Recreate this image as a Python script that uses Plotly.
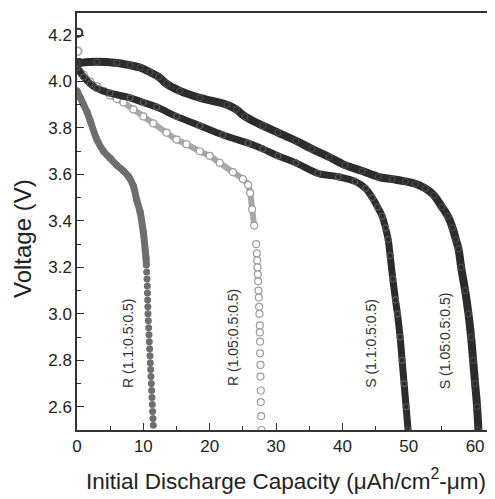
import plotly.graph_objects as go

# ---------------- data ----------------
r11_x = [0, 0.5, 1, 1.5, 2, 3, 4, 5, 6, 7, 7.8, 8.5, 9, 9.5, 10, 10.3,
         10.4, 10.45, 10.5, 10.55, 10.6, 10.62, 10.65, 10.68, 10.7, 10.75, 10.8, 10.85,
         10.9, 10.95, 11.0, 11.05, 11.1, 11.15, 11.2, 11.25, 11.3, 11.35, 11.4, 11.45, 11.5]
r11_v = [3.96, 3.93, 3.90, 3.87, 3.83, 3.75, 3.70, 3.67, 3.64, 3.615, 3.59, 3.55, 3.49, 3.44, 3.35, 3.27,
         3.24, 3.21, 3.18, 3.15, 3.12, 3.09, 3.06, 3.03, 3.00, 2.97, 2.94, 2.91,
         2.88, 2.85, 2.82, 2.79, 2.76, 2.73, 2.70, 2.67, 2.64, 2.61, 2.58, 2.55, 2.52]

r105_x = [0, 1, 2, 3, 4, 5, 6, 7, 8.5, 10, 11.5, 13.5, 15, 16.5, 18.5, 20, 21.5, 23.5, 25, 25.8,
          26.1, 26.4, 26.7, 27.0,
          27.1, 27.15, 27.2, 27.25, 27.3, 27.35, 27.4, 27.45, 27.5, 27.55, 27.55, 27.6, 27.6,
          27.65, 27.65, 27.7, 27.7, 27.75, 27.8]
r105_v = [4.07, 4.03, 4.0, 3.98, 3.96, 3.94, 3.925, 3.91, 3.88, 3.85, 3.82, 3.78, 3.75, 3.73, 3.70,
          3.68, 3.65, 3.61, 3.58, 3.555, 3.52, 3.45, 3.38, 3.30,
          3.26, 3.23, 3.20, 3.17, 3.14, 3.10, 3.07, 3.03, 3.00, 2.95, 2.92, 2.88, 2.83,
          2.78, 2.73, 2.67, 2.62, 2.56, 2.50]

s11_x = [0, 1, 2, 3, 5, 8, 10, 12, 15, 18.5, 22, 25.8, 28, 30.3, 33, 36.3, 39.4, 41.9, 43.5,
         44.5, 45.3, 46, 46.5, 46.9, 47.2, 47.6, 48.0, 48.3, 48.7, 49.0, 49.3, 49.6, 49.9]
s11_v = [4.06, 4.02, 3.99, 3.97, 3.95, 3.93, 3.91, 3.89, 3.85, 3.81, 3.77, 3.735, 3.71, 3.68, 3.65,
         3.605, 3.59, 3.57, 3.54, 3.50, 3.46, 3.42, 3.37, 3.32, 3.25, 3.15, 3.06, 3.0, 2.9, 2.8,
         2.7, 2.6, 2.5]

s105_x = [0, 3, 6, 8, 9.5, 11, 12.3, 13.5, 15.5, 18.5, 22.6, 24, 25.3, 28, 30.3, 33, 35.4, 38,
          40.4, 43, 45.4, 47.5, 49.5, 51, 52.5, 53.8, 55, 55.9, 56.6, 57.1, 57.5, 57.9, 58.5, 59,
          59.4, 59.7, 60, 60.3, 60.5]
s105_v = [4.08, 4.085, 4.08, 4.07, 4.06, 4.04, 4.02, 3.99, 3.96, 3.93, 3.90, 3.88, 3.85, 3.81,
          3.78, 3.745, 3.71, 3.675, 3.64, 3.615, 3.59, 3.58, 3.57, 3.56, 3.54, 3.51, 3.46, 3.42,
          3.37, 3.32, 3.28, 3.2, 3.1, 3.0, 2.9, 2.8, 2.7, 2.6, 2.5]

start_x = [0.2, 0.1]
start_v = [4.21, 4.13]

labels = ["R (1.1:0.5:0.5)", "R (1.05:0.5:0.5)", "S (1.1:0.5:0.5)", "S (1.05:0.5:0.5)"]
label_x = [7.7, 23.5, 44.3, 55.4]
label_v = [2.875, 2.90, 2.875, 2.885]

x_ticks = [0, 10, 20, 30, 40, 50, 60]
y_ticks = [2.6, 2.8, 3.0, 3.2, 3.4, 3.6, 3.8, 4.0, 4.2]

x_title = "Initial Discharge Capacity (\u03bcAh/cm<sup>2</sup>-\u03bcm)"
y_title = "Voltage (V)"

# ---------------- figure ----------------
DARK = "#2c2c2c"
GRAY = "#6e6e6e"
LIGHT = "#9c9c9c"
FONT = "Liberation Sans, Arial, sans-serif"

fig = go.Figure()


def band(xs, vs, vmin):
    px = [x for x, v in zip(xs, vs) if v >= vmin]
    pv = [v for v in vs if v >= vmin]
    return px, pv


# R (1.1) filled gray circles
bx, bv = band(r11_x, r11_v, 3.2)
fig.add_trace(go.Scatter(x=bx, y=bv, mode="lines", line=dict(color=GRAY, width=7, shape="spline"),
                         hoverinfo="skip"))
fig.add_trace(go.Scatter(x=r11_x, y=r11_v, mode="markers",
                         marker=dict(symbol="circle", size=7, color=GRAY, line=dict(width=0))))

# R (1.05) open light circles
bx, bv = band(r105_x, r105_v, 3.35)
fig.add_trace(go.Scatter(x=bx, y=bv, mode="lines", line=dict(color="#a8a8a8", width=6, shape="spline"),
                         hoverinfo="skip"))
fig.add_trace(go.Scatter(x=r105_x, y=r105_v, mode="markers",
                         marker=dict(symbol="circle", size=7, color="white",
                                     line=dict(width=1.2, color=LIGHT))))

# S (1.1)
fig.add_trace(go.Scatter(x=s11_x, y=s11_v, mode="lines", line=dict(color=DARK, width=7, shape="spline"),
                         hoverinfo="skip"))
fig.add_trace(go.Scatter(x=s11_x, y=s11_v, mode="markers",
                         marker=dict(symbol="circle-open", size=6, color="#5a5a5a", line=dict(width=1.2))))

# S (1.05)
fig.add_trace(go.Scatter(x=s105_x, y=s105_v, mode="lines", line=dict(color=DARK, width=8, shape="spline"),
                         hoverinfo="skip"))
fig.add_trace(go.Scatter(x=s105_x, y=s105_v, mode="markers",
                         marker=dict(symbol="circle-open", size=6, color="#4a4a4a", line=dict(width=1.2))))

# initial isolated points
fig.add_trace(go.Scatter(x=start_x, y=start_v, mode="markers",
                         marker=dict(symbol="circle-open", size=8, color=[DARK, "#b0b0b0"],
                                     line=dict(width=2))))

for t, lx, lv in zip(labels, label_x, label_v):
    fig.add_annotation(x=lx, y=lv, text=t, textangle=-90, showarrow=False,
                       font=dict(family=FONT, size=14, color="#333333"))

# y-axis title sits a little below the centre of the axis in the reference
fig.add_annotation(xref="paper", yref="paper", x=-0.132, y=0.46, text=y_title, textangle=-90,
                   showarrow=False, xanchor="center", yanchor="middle",
                   font=dict(family=FONT, size=24, color="#222222"))

axis_common = dict(showgrid=False, zeroline=False, showline=True, linecolor="#333333", linewidth=1.5,
                   ticks="inside", ticklen=7, tickwidth=1.3, tickcolor="#333333", automargin=False,
                   tickfont=dict(family=FONT, size=17, color="#222222"))

# the page body adds an 8px offset; margins compensate so the plot area sits where the reference has it
fig.update_layout(
    width=495, height=499,
    margin=dict(l=69, r=8, t=5, b=77),
    paper_bgcolor="white", plot_bgcolor="white",
    showlegend=False,
    xaxis=dict(range=[0, 63], tickvals=x_ticks, mirror=True,
               minor=dict(dtick=5, tick0=0, ticks="inside", ticklen=4, tickcolor="#333333"),
               title=dict(text=x_title,
                          font=dict(family=FONT, size=22.5, color="#222222"),
                          standoff=18),
               **axis_common),
    yaxis=dict(range=[2.5, 4.295], tickvals=y_ticks, tickformat=".1f",
               minor=dict(dtick=0.1, tick0=2.5, ticks="inside", ticklen=4, tickcolor="#333333"),
               **axis_common),
)

fig.write_html("out.html")
